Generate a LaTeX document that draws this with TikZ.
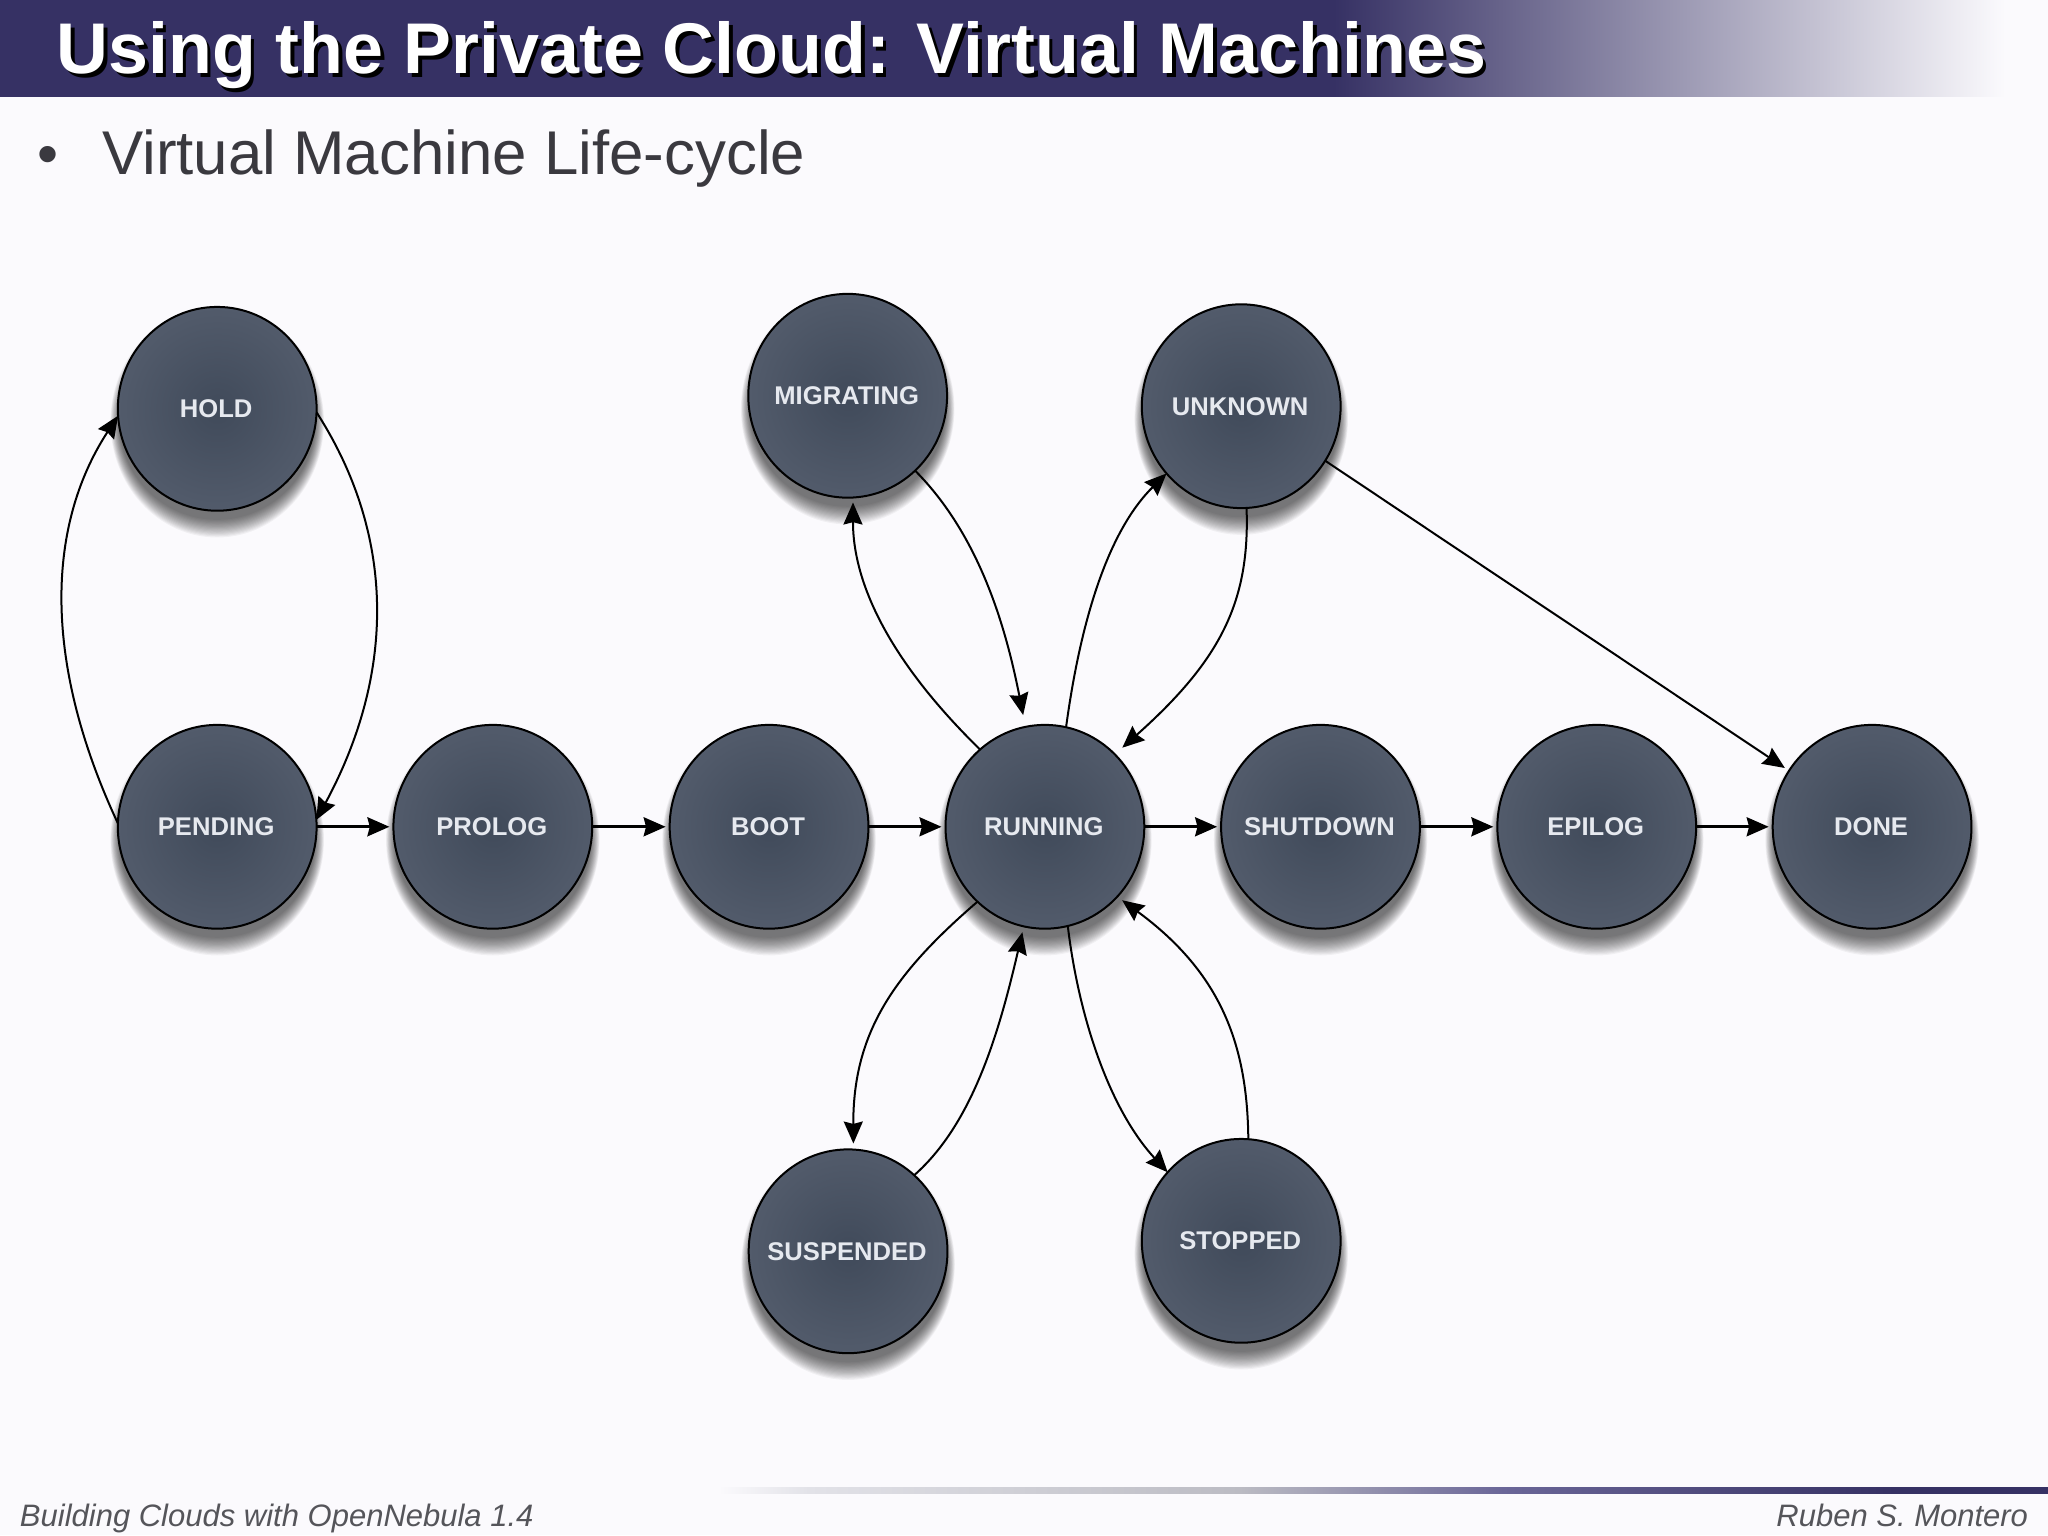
\documentclass[tikz,border=0pt]{standalone}
\usepackage{fontspec}
\setmainfont{Liberation Sans}
\usetikzlibrary{arrows.meta,shapes.geometric}
\definecolor{pagebg}{HTML}{FBFAFD}
\definecolor{barblue}{HTML}{363164}
\definecolor{bodytext}{HTML}{3A393F}
\definecolor{foottext}{HTML}{55555A}
\definecolor{labeltext}{HTML}{E6E9EF}
\definecolor{discin}{HTML}{404A5A}
\definecolor{discout}{HTML}{525B6B}
\definecolor{foota}{HTML}{E2E2E8}
\definecolor{footb}{HTML}{BBBBC3}
\definecolor{footc}{HTML}{6A6698}
\pgfdeclarehorizontalshading{titlefade}{100bp}{color(0bp)=(barblue); color(25bp)=(barblue); color(72bp)=(pagebg); color(100bp)=(pagebg)}
\pgfdeclarehorizontalshading{footfade}{100bp}{color(0bp)=(pagebg); color(25bp)=(pagebg); color(28.4bp)=(foota); color(44.6bp)=(footb); color(54.5bp)=(footc); color(69.2bp)=(barblue); color(100bp)=(barblue)}
\tikzset{
  x=0.65306pt,y=-0.65306pt,
  state/.style={ellipse,draw=black,line width=1pt,minimum width=99.4pt,minimum height=101.9pt,inner sep=0pt,outer sep=0pt,
    shading=radial,inner color=discin,outer color=discout,
    font=\fontsize{12.8}{14}\selectfont\bfseries,text=labeltext},
  link/.style={line width=1pt,-{Stealth[length=11pt,width=9.5pt,inset=1.2pt]},black},
  linkb/.style={link,line width=1.3pt}
}
\newcommand{\vmdisc}[4]{%
  \foreach \i in {0,...,15}{\fill[black,opacity=0.045] (#2,#3+10) ellipse[x radius=75+0.45*\i,y radius=75+0.9*\i];}
  \node[state] (#1) at (#2,#3) {\makebox[0pt]{\hspace{-1pt}#4}};}
\begin{document}
\begin{tikzpicture}
\useasboundingbox (0,0) rectangle (1568,1175.23);
\fill[pagebg] (0,0) rectangle (1568,1175.23);
% title bar
\fill[barblue] (0,0) rectangle (1021,74);
\shade[shading=titlefade] (1021,0) rectangle (1568,74);
\node[anchor=base west,inner sep=0pt,text=white,font=\fontsize{35.9}{40}\selectfont\bfseries] (title) at (43,56.5)
  {\makebox[0pt][l]{\hspace{1.8pt}\raisebox{-1.8pt}{\color{black}Using the Private Cloud: Virtual Machines}}Using the Private Cloud: Virtual Machines};
\node[anchor=base,inner sep=0pt,text=bodytext,font=\fontsize{30}{34}\selectfont] (bullet) at (37,133.5) {•};
\node[anchor=base west,inner sep=0pt,text=bodytext,font=\fontsize{30.9}{34}\selectfont] (sub) at (78,133.5) {Virtual Machine Life-cycle};
% footer
\shade[shading=footfade] (550,1138.5) rectangle (1568,1143.8);
\node[anchor=base west,inner sep=0pt,text=foottext,font=\fontsize{15.5}{18}\selectfont\itshape] (footl) at (15,1169) {Building Clouds with OpenNebula 1.4};
\node[anchor=base east,inner sep=0pt,text=foottext,font=\fontsize{15.5}{18}\selectfont\itshape] (footr) at (1553,1169) {Ruben S. Montero};
% states
\vmdisc{hold}{166.3}{313}{HOLD}
\vmdisc{pending}{166.3}{633}{PENDING}
\vmdisc{prolog}{377.3}{633}{PROLOG}
\vmdisc{boot}{588.8}{633}{BOOT}
\vmdisc{running}{800}{633}{RUNNING}
\vmdisc{shutdown}{1011}{633}{SHUTDOWN}
\vmdisc{epilog}{1222.5}{633}{EPILOG}
\vmdisc{done}{1433.3}{633}{DONE}
\vmdisc{migrating}{649}{303}{MIGRATING}
\vmdisc{unknown}{950.3}{311}{UNKNOWN}
\vmdisc{suspended}{649.3}{958}{SUSPENDED}
\vmdisc{stopped}{950.3}{950}{STOPPED}
% straight links
\foreach \a/\b in {pending/prolog,prolog/boot,boot/running,running/shutdown,shutdown/epilog,epilog/done}
  \draw[linkb,shorten >=2pt] (\a.east) -- (\b.west);
\draw[link,shorten >=2.5pt] (unknown.-33.7) -- (done.146);
% curved links
\draw[link] (pending.178) .. controls (34,510) and (34,405) .. (hold.184);
\draw[link] (hold.-2) .. controls (303,410) and (303,515) .. (pending.4);
\draw[link,shorten >=2.5pt] (running.130) .. controls (685,510) and (653,450) .. (migrating.-87);
\draw[link,shorten >=6pt] (migrating.-48) .. controls (750,410) and (770,480) .. (running.101.6);
\draw[link] (running.78.7) .. controls (828,470) and (850,405) .. (unknown.-138);
\draw[link,shorten >=5pt] (unknown.-87) .. controls (957,460) and (935,505) .. (running.46.9);
\draw[link,shorten >=3pt] (running.-132.4) .. controls (685,745) and (653,790) .. (suspended.87);
\draw[link,shorten >=3pt] (suspended.49) .. controls (745,860) and (765,790) .. (running.-102.3);
\draw[link] (running.-77.2) .. controls (826,780) and (850,850) .. (stopped.137);
\draw[link,shorten >=3pt] (stopped.86.4) .. controls (955,800) and (935,745) .. (running.-44.5);
\end{tikzpicture}
\end{document}
